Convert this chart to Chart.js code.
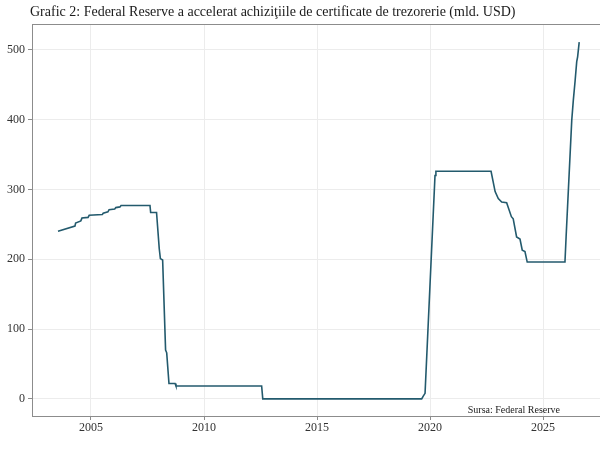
<!DOCTYPE html>
<html>
<head>
<meta charset="utf-8">
<script src="https://cdn.jsdelivr.net/npm/chart.js@4.4.1/dist/chart.umd.min.js"></script>
<style>
  html, body { margin: 0; padding: 0; background: #fff; }
</style>
</head>
<body>
<canvas id="fedChart" width="600" height="450"></canvas>
<script>
// values (year as decimal, bn USD)
const years = [2003.54, 2004.29, 2004.32, 2004.55, 2004.6, 2004.87, 2004.92, 2005.5, 2005.54, 2005.75,
  2005.8, 2006.05, 2006.1, 2006.28, 2006.33, 2007.61, 2007.64, 2007.9, 2008.02, 2008.07,
  2008.17, 2008.3, 2008.35, 2008.45, 2008.72, 2008.76, 2012.55, 2012.6, 2019.63, 2019.7,
  2019.78, 2020.22, 2020.26, 2022.7, 2022.88, 2023.02, 2023.17, 2023.39, 2023.6, 2023.68,
  2023.83, 2023.98, 2024.08, 2024.2, 2024.3, 2025.97, 2026.02, 2026.27, 2026.34, 2026.42,
  2026.49, 2026.53, 2026.6];
const holdings = [240, 247.5, 252, 255, 259, 260, 263, 264, 266, 268,
  271, 272, 274, 275, 277, 277, 267, 267, 215, 201,
  199, 70, 66, 22, 22, 18.5, 18.5, 0, 0, 4,
  8, 320, 326, 326, 297, 287, 282, 281, 261, 258,
  232, 229, 213, 211, 196, 196, 232, 399, 428, 456,
  483, 490, 511];
const xTicks = [2005, 2010, 2015, 2020, 2025];
const yTicks = [0, 100, 200, 300, 400, 500];

const titleText = "Grafic 2: Federal Reserve a accelerat achiziţiile de certificate de trezorerie (mld. USD)";
const sourceText = "Sursa: Federal Reserve";
const serif = "'Liberation Serif', 'DejaVu Serif', serif";

// title, caption and panel border
const extras = {
  id: 'extras',
  afterDraw(chart) {
    const c = chart.ctx, a = chart.chartArea;
    c.save();
    c.strokeStyle = '#8c8c8c';
    c.lineWidth = 1;
    c.strokeRect(a.left + 0.5, a.top + 0.5, a.right - a.left + 4, a.bottom - a.top);
    c.fillStyle = '#1a1a1a';
    c.font = "14px " + serif;
    c.textBaseline = 'middle';
    c.textAlign = 'left';
    c.fillText(titleText, 30, 12);
    c.font = "10px " + serif;
    c.textAlign = 'right';
    c.fillText(sourceText, 560, 410);
    c.restore();
  }
};

new Chart(document.getElementById('fedChart'), {
  type: 'line',
  data: {
    datasets: [{
      data: years.map((y, i) => ({ x: y, y: holdings[i] })),
      borderColor: '#235a6d',
      borderWidth: 1.6,
      pointRadius: 0,
      tension: 0,
      fill: false
    }]
  },
  options: {
    responsive: false,
    animation: false,
    layout: { padding: { top: 24, left: 0, right: 0, bottom: 0 } },
    plugins: { legend: { display: false }, tooltip: { enabled: false } },
    scales: {
      x: {
        type: 'linear',
        min: 2002.39,
        max: 2027.52,
        afterBuildTicks: s => { s.ticks = xTicks.map(v => ({ value: v })); },
        afterFit: s => { s.height = 34; },
        ticks: { color: '#333', font: { family: serif, size: 12 }, padding: 1, maxRotation: 0,
          callback: v => String(v) },
        grid: { color: '#ececec', tickColor: '#8c8c8c', tickLength: 4 },
        border: { display: false }
      },
      y: {
        min: -24.5,
        max: 537,
        afterBuildTicks: s => { s.ticks = yTicks.map(v => ({ value: v })); },
        afterFit: s => { s.width = 32; },
        ticks: { color: '#333', font: { family: serif, size: 12 }, padding: 3 },
        grid: { color: '#ececec', tickColor: '#8c8c8c', tickLength: 4 },
        border: { display: false }
      }
    }
  },
  plugins: [extras]
});
</script>
</body>
</html>
